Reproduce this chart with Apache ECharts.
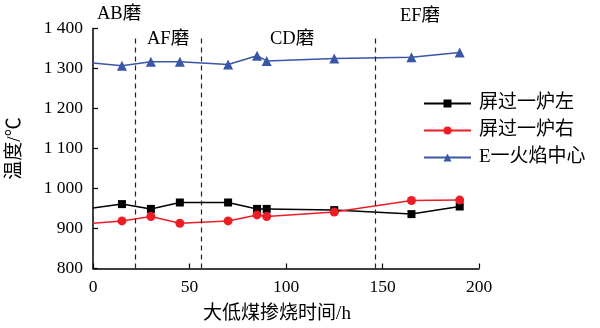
<!DOCTYPE html>
<html><head><meta charset="utf-8">
<script src="https://cdn.jsdelivr.net/npm/echarts@6/dist/echarts.min.js"></script>
<style>html,body{margin:0;padding:0;background:#fff}#c{width:600px;height:328px}</style>
</head><body><div id="c"></div>
<script>
const hours = [0, 15, 30, 45, 70, 85, 90, 125, 165, 190];
const leftTemp = [951, 961, 949, 965, 965, 949, 949, 946, 936, 955];
const rightTemp = [913, 919, 930, 913, 919, 934, 930, 941, 970, 971];
const flameTemp = [1314, 1307, 1317, 1317, 1310, 1332, 1319, 1325, 1328, 1340];
const seriesNames = ['屏过一炉左', '屏过一炉右', 'E一火焰中心'];
const millSwitch = [22, 56, 146];
const millLabels = ['AB磨', 'AF磨', 'CD磨', 'EF磨'];
const yTicks = [800, 900, 1000, 1100, 1200, 1300, 1400];

const FONT = '"Liberation Serif", "Noto Sans CJK SC", serif';
const chart = echarts.init(document.getElementById('c'), null, {renderer: 'canvas'});

function mk(vals, hideFirst) {
  return hours.map((h, i) => (i === 0 && hideFirst) ? {value: [h, vals[i]], symbol: 'none'} : [h, vals[i]]);
}

const option = {
  animation: false,
  textStyle: {fontFamily: FONT},
  grid: {left: 93, right: 121, top: 28.5, bottom: 59.5, containLabel: false, outerBoundsMode: 'none'},
  xAxis: {
    type: 'value', min: 0, max: 200, interval: 50,
    axisLine: {lineStyle: {color: '#000', width: 1.5}},
    axisTick: {inside: true, length: 5, lineStyle: {color: '#000', width: 1.2}},
    splitLine: {show: false},
    axisLabel: {color: '#000', fontSize: 17.5, fontFamily: FONT, margin: 10},
    name: '大低煤掺烧时间/h', nameLocation: 'middle', nameGap: 36,
    nameTextStyle: {color: '#000', fontSize: 19, fontFamily: FONT, padding: [0, 18, 0, 0]}
  },
  yAxis: {
    type: 'value', min: 800, max: 1400, interval: 100,
    axisLine: {show: true, lineStyle: {color: '#000', width: 1.5}},
    axisTick: {show: true, inside: true, length: 5, lineStyle: {color: '#000', width: 1.2}},
    splitLine: {show: false},
    axisLabel: {color: '#000', fontSize: 17.5, fontFamily: FONT, margin: 10,
      formatter: v => yTicks.includes(v) ? (v >= 1000 ? String(v).replace(/^(\d)(\d{3})$/, '$1 $2') : String(v)) : ''},
    name: '温度/℃', nameLocation: 'middle', nameGap: 68, nameRotate: 90,
    nameTextStyle: {color: '#000', fontSize: 19, fontFamily: FONT}
  },
  legend: {
    orient: 'vertical', left: 418, top: 89, itemWidth: 47, itemHeight: 10, itemGap: 8,
    textStyle: {color: '#000', fontSize: 19, fontFamily: FONT, padding: [0, 0, 0, 3]},
    data: seriesNames
  },
  graphic: [
    {type: 'text', left: 97, top: 5, style: {text: millLabels[0], font: '18.5px ' + FONT, fill: '#000'}},
    {type: 'text', left: 147, top: 30, style: {text: millLabels[1], font: '18.5px ' + FONT, fill: '#000'}},
    {type: 'text', left: 270, top: 30, style: {text: millLabels[2], font: '18.5px ' + FONT, fill: '#000'}},
    {type: 'text', left: 400, top: 7, style: {text: millLabels[3], font: '18.5px ' + FONT, fill: '#000'}}
  ],
  series: [
    {
      name: seriesNames[0], type: 'line', data: mk(leftTemp, true),
      symbol: 'rect', symbolSize: 8, itemStyle: {color: '#000'},
      lineStyle: {color: '#000', width: 1.5},
      markLine: {
        silent: true, symbol: 'none', label: {show: false},
        lineStyle: {color: '#222', type: [5, 4], width: 1.2},
        data: millSwitch.map(x => [{coord: [x, 800]}, {coord: [x, 1382]}])
      }
    },
    {
      name: seriesNames[1], type: 'line', data: mk(rightTemp, true),
      symbol: 'circle', symbolSize: 9, itemStyle: {color: '#ee1c25'},
      lineStyle: {color: '#ee1c25', width: 1.5}
    },
    {
      name: seriesNames[2], type: 'line', data: mk(flameTemp, true),
      symbol: 'triangle', symbolSize: 10, itemStyle: {color: '#3a56a6'},
      lineStyle: {color: '#3a56a6', width: 1.5}
    }
  ]
};
chart.setOption(option);
</script></body></html>
